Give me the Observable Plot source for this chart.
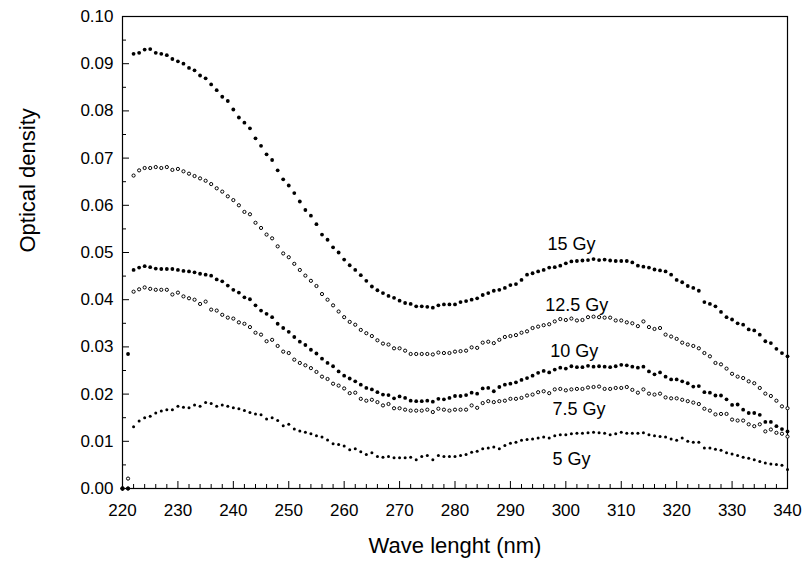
<!DOCTYPE html>
<html><head><meta charset="utf-8">
<script src="https://cdn.jsdelivr.net/npm/d3@7"></script>
<script src="https://cdn.jsdelivr.net/npm/@observablehq/plot@0.6"></script>
<style>html,body{margin:0;padding:0;background:#fff}svg{display:block}</style>
</head><body><div id="chart"></div>
<script>
const wavelength = [
220,221,222,223,224,225,226,227,228,229,
230,231,232,233,234,235,236,237,238,239,
240,241,242,243,244,245,246,247,248,249,
250,251,252,253,254,255,256,257,258,259,
260,261,262,263,264,265,266,267,268,269,
270,271,272,273,274,275,276,277,278,279,
280,281,282,283,284,285,286,287,288,289,
290,291,292,293,294,295,296,297,298,299,
300,301,302,303,304,305,306,307,308,309,
310,311,312,313,314,315,316,317,318,319,
320,321,322,323,324,325,326,327,328,329,
330,331,332,333,334,335,336,337,338,339,
340];

const od15 = [
0,.0285,.0921,.0923,.0930,.0931,.0923,.0921,.0918,.0910,
.0905,.0900,.0891,.0886,.0875,.0869,.0856,.0844,.0830,.0821,
.0803,.0786,.0775,.0763,.0742,.0726,.0708,.0696,.0674,.0655,
.0642,.0626,.0608,.0590,.0578,.0560,.0538,.0527,.0511,.0500,
.0485,.0473,.0463,.0452,.0440,.0428,.0420,.0414,.0408,.0404,
.0398,.0393,.0391,.0386,.0386,.0385,.0383,.0388,.0390,.0390,
.0390,.0395,.0397,.0400,.0403,.0410,.0414,.0419,.0421,.0425,
.0431,.0433,.0442,.0453,.0456,.0460,.0463,.0468,.0469,.0472,
.0477,.0481,.0482,.0483,.0484,.0486,.0484,.0485,.0483,.0482,
.0482,.0482,.0479,.0472,.0470,.0468,.0464,.0462,.0460,.0453,
.0442,.0437,.0429,.0425,.0419,.0395,.0391,.0386,.0374,.0363,
.0358,.0350,.0347,.0337,.0335,.0326,.0312,.0308,.0296,.0287,
.0280];

const od125 = [
0,.0021,.0663,.0674,.0679,.0679,.0681,.0679,.0681,.0675,
.0677,.0672,.0667,.0662,.0657,.0652,.0645,.0636,.0629,.0619,
.0611,.0600,.0586,.0581,.0563,.0552,.0538,.0530,.0513,.0498,
.0490,.0476,.0463,.0451,.0440,.0429,.0412,.0400,.0388,.0375,
.0363,.0353,.0347,.0336,.0329,.0323,.0314,.0307,.0305,.0297,
.0297,.0292,.0285,.0285,.0285,.0285,.0284,.0288,.0287,.0287,
.0290,.0291,.0292,.0299,.0298,.0309,.0311,.0308,.0315,.0321,
.0323,.0325,.0330,.0333,.0340,.0343,.0346,.0348,.0354,.0359,
.0357,.0360,.0356,.0357,.0363,.0364,.0363,.0362,.0362,.0356,
.0356,.0352,.0350,.0344,.0354,.0342,.0338,.0340,.0326,.0322,
.0317,.0309,.0305,.0302,.0297,.0287,.0280,.0266,.0263,.0254,
.0243,.0237,.0234,.0227,.0223,.0213,.0201,.0196,.0186,.0174,
.0170];

const od10 = [
0,0,.0463,.0468,.0471,.0469,.0466,.0465,.0465,.0465,
.0463,.0461,.0460,.0458,.0455,.0453,.0451,.0443,.0439,.0430,
.0421,.0415,.0405,.0401,.0388,.0377,.0370,.0363,.0349,.0340,
.0332,.0321,.0311,.0304,.0294,.0286,.0275,.0266,.0259,.0248,
.0239,.0233,.0227,.0220,.0213,.0210,.0204,.0199,.0198,.0191,
.0195,.0192,.0186,.0185,.0185,.0186,.0184,.0190,.0189,.0192,
.0196,.0196,.0198,.0203,.0201,.0212,.0213,.0206,.0215,.0220,
.0222,.0225,.0230,.0234,.0239,.0245,.0249,.0246,.0252,.0256,
.0254,.0259,.0257,.0257,.0260,.0258,.0259,.0258,.0257,.0259,
.0262,.0261,.0258,.0256,.0258,.0248,.0242,.0246,.0237,.0231,
.0231,.0227,.0223,.0216,.0217,.0204,.0203,.0197,.0197,.0189,
.0177,.0178,.0167,.0160,.0160,.0156,.0141,.0141,.0132,.0126,
.0121];

const od75 = [
0,0,.0417,.0422,.0426,.0423,.0421,.0421,.0421,.0411,
.0415,.0407,.0403,.0400,.0391,.0396,.0379,.0377,.0368,.0362,
.0360,.0352,.0349,.0342,.0330,.0326,.0312,.0315,.0302,.0290,
.0287,.0273,.0266,.0261,.0255,.0247,.0237,.0232,.0222,.0218,
.0212,.0202,.0203,.0190,.0186,.0188,.0183,.0176,.0179,.0170,
.0170,.0167,.0165,.0165,.0165,.0167,.0162,.0169,.0167,.0165,
.0167,.0167,.0167,.0176,.0171,.0181,.0185,.0183,.0185,.0186,
.0190,.0190,.0192,.0197,.0199,.0204,.0206,.0202,.0210,.0211,
.0208,.0210,.0211,.0211,.0214,.0215,.0216,.0211,.0211,.0213,
.0213,.0215,.0209,.0203,.0210,.0201,.0199,.0201,.0193,.0191,
.0191,.0188,.0185,.0182,.0179,.0169,.0165,.0157,.0158,.0158,
.0146,.0144,.0144,.0136,.0132,.0136,.0121,.0125,.0118,.0116,
.0110];

const od5 = [
0,0,.0131,.0143,.0150,.0153,.0160,.0164,.0167,.0167,
.0174,.0172,.0171,.0177,.0174,.0182,.0180,.0174,.0177,.0174,
.0171,.0169,.0165,.0161,.0158,.0156,.0147,.0150,.0144,.0133,
.0136,.0126,.0122,.0119,.0116,.0112,.0109,.0103,.0095,.0093,
.0090,.0082,.0084,.0078,.0072,.0076,.0068,.0066,.0068,.0065,
.0065,.0065,.0066,.0061,.0068,.0070,.0061,.0070,.0068,.0068,
.0068,.0070,.0072,.0077,.0079,.0084,.0086,.0088,.0084,.0091,
.0096,.0098,.0102,.0104,.0105,.0107,.0109,.0107,.0112,.0114,
.0114,.0116,.0117,.0117,.0118,.0119,.0118,.0117,.0114,.0116,
.0119,.0117,.0117,.0117,.0118,.0114,.0112,.0110,.0109,.0105,
.0102,.0107,.0100,.0098,.0098,.0086,.0086,.0083,.0081,.0076,
.0073,.0070,.0066,.0064,.0061,.0057,.0054,.0052,.0051,.0049,
.0040];

const seriesNames = ["15 Gy", "12.5 Gy", "10 Gy", "7.5 Gy", "5 Gy"];
const labelX = [296.7, 296.3, 297.2, 297.6, 297.6];
const labelY = [0.0517, 0.0388, 0.0291, 0.0167, 0.0061];

const xTicks = [220, 230, 240, 250, 260, 270, 280, 290, 300, 310, 320, 330, 340];
const xMinorTicks = [222,224,226,228,232,234,236,238,242,244,246,248,252,254,256,258,262,264,266,268,272,274,276,278,282,284,286,288,292,294,296,298,302,304,306,308,312,314,316,318,322,324,326,328,332,334,336,338];
const yTicks = [0, 0.01, 0.02, 0.03, 0.04, 0.05, 0.06, 0.07, 0.08, 0.09, 0.10];
const yMinorTicks = [0.005, 0.015, 0.025, 0.035, 0.045, 0.055, 0.065, 0.075, 0.085, 0.095];

const xTitle = "Wave lenght (nm)";
const yTitle = "Optical density";

const rows = (vals, name) => wavelength.map((w, i) => ({wl: w, od: vals[i], series: name}));
const d15 = rows(od15, "15 Gy");
const d125 = rows(od125, "12.5 Gy");
const d10 = rows(od10, "10 Gy");
const d75 = rows(od75, "7.5 Gy");
const d5 = rows(od5, "5 Gy");
const labels = seriesNames.map((s, i) => ({text: s, x: labelX[i], y: labelY[i]}));

const chart = Plot.plot({
  width: 805,
  height: 567,
  marginLeft: 122,
  marginRight: 18,
  marginTop: 16,
  marginBottom: 79,
  style: {fontFamily: "Arial, 'Liberation Sans', Helvetica, sans-serif", fontSize: "17px", color: "black", background: "white"},
  x: {domain: [220, 340]},
  y: {domain: [0, 0.1]},
  marks: [
    Plot.axisX(xTicks, {tickSize: 0, tickPadding: 15, fontSize: 17, label: null}),
    Plot.axisY(yTicks, {tickSize: 0, tickPadding: 9, fontSize: 17, tickFormat: d3.format(".2f"), label: null}),
    Plot.ruleX(xTicks, {x: d => d, y1: () => 0, y2: () => 0, insetBottom: 7, stroke: "black", strokeWidth: 1}),
    Plot.ruleX(xMinorTicks, {x: d => d, y1: () => 0, y2: () => 0, insetBottom: 4, stroke: "black", strokeWidth: 1}),
    Plot.ruleY(yTicks, {y: d => d, x1: () => 220, x2: () => 220, insetRight: -7, stroke: "black", strokeWidth: 1}),
    Plot.ruleY(yMinorTicks, {y: d => d, x1: () => 220, x2: () => 220, insetRight: -4, stroke: "black", strokeWidth: 1}),
    Plot.frame({stroke: "black", strokeWidth: 1.2}),
    Plot.dot(d5, {x: "wl", y: "od", r: 1.5, fill: "black", stroke: "none"}),
    Plot.dot(d75, {x: "wl", y: "od", r: 1.6, fill: "white", stroke: "black", strokeWidth: 1}),
    Plot.dot(d10, {x: "wl", y: "od", r: 1.9, fill: "black", stroke: "none"}),
    Plot.dot(d125, {x: "wl", y: "od", r: 1.6, fill: "white", stroke: "black", strokeWidth: 1}),
    Plot.dot(d15, {x: "wl", y: "od", r: 1.9, fill: "black", stroke: "none"}),
    Plot.text(labels, {x: "x", y: "y", text: "text", textAnchor: "start", fontSize: 18, fill: "black"}),
    Plot.text([xTitle], {text: d => d, frameAnchor: "bottom", dy: 64, fontSize: 22, fill: "black"}),
    Plot.text([yTitle], {text: d => d, frameAnchor: "left", dx: -95, rotate: -90, fontSize: 22, fill: "black"})
  ]
});
document.getElementById("chart").appendChild(chart);
</script>
</body></html>
